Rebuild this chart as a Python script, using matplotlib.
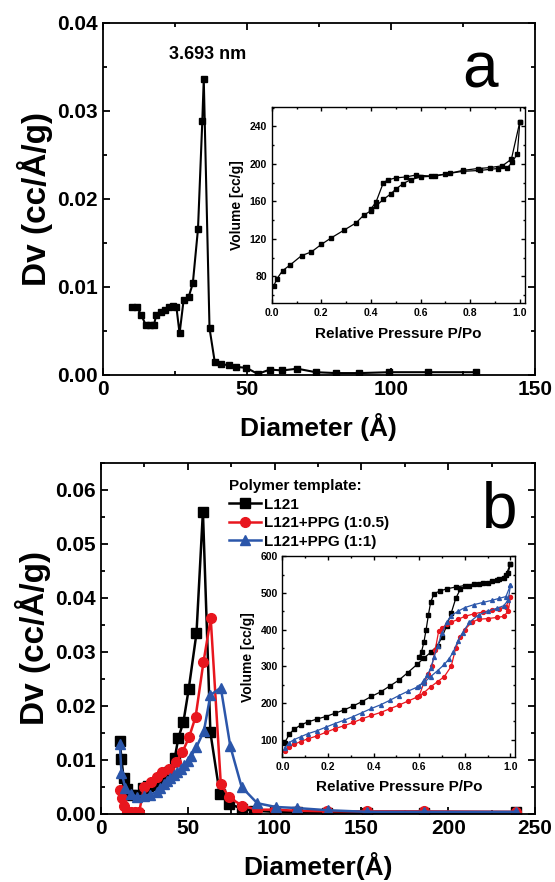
import matplotlib
matplotlib.use("Agg")
import matplotlib.pyplot as plt
from matplotlib.ticker import MultipleLocator

plt.rcParams['font.family'] = ['Liberation Sans', 'DejaVu Sans']
plt.rcParams['font.weight'] = 'bold'

# ---- panel a: pore size distribution ----
a_diam = [10.2, 11.8, 13.3, 14.8, 16.2, 17.7, 18.5, 20.0, 21.4, 22.9, 24.3, 25.5, 26.6,
          28.0, 29.8, 31.2, 33.0, 34.5, 35.0, 37.0, 38.8, 41.1, 43.9, 46.2, 49.8, 53.8,
          57.9, 62.3, 67.5, 73.9, 81.0, 89.0, 99.5, 112.8, 129.6]
a_dv = [0.0077, 0.0077, 0.0068, 0.0057, 0.0057, 0.0057, 0.0068, 0.0071, 0.0074, 0.0077,
        0.0078, 0.0077, 0.0047, 0.0085, 0.0089, 0.0104, 0.0166, 0.0289, 0.0336, 0.0053,
        0.0015, 0.0012, 0.0011, 0.0009, 0.0008, 0.0001, 0.0006, 0.0005, 0.0007, 0.0003,
        0.0002, 0.0002, 0.0003, 0.0003, 0.0003]

# inset a: isotherm
a_ads_p = [0.009, 0.02, 0.044, 0.074, 0.12, 0.16, 0.20, 0.24, 0.29, 0.34, 0.37, 0.40,
           0.42, 0.45, 0.48, 0.50, 0.53, 0.56, 0.60, 0.66, 0.72, 0.77, 0.84, 0.91, 0.95,
           0.97, 0.99, 1.0]
a_ads_v = [70, 77, 86, 92, 102, 106, 114, 121, 129, 137, 145, 150, 155, 162, 168, 173,
           179, 183, 186, 187, 190, 192, 193, 195, 196, 202, 211, 245]
a_des_p = [1.0, 0.966, 0.93, 0.88, 0.83, 0.77, 0.70, 0.64, 0.58, 0.54, 0.50, 0.47, 0.45,
           0.42, 0.40]
a_des_v = [245, 205, 198, 196, 195, 193, 189, 187, 188, 186, 185, 183, 180, 159, 152]

# ---- panel b: pore size distributions ----
labels_b = ['L121', 'L121+PPG (1:0.5)', 'L121+PPG (1:1)']
blk_x = [10.8, 11.8, 13, 15, 17.5, 20.5, 24, 27, 30, 33, 36, 39, 42.5, 44.5, 47.5, 50.5,
         55, 58.7, 63, 68.4, 74, 81.5, 88, 100, 113, 130, 153, 186, 239]
blk_y = [0.0135, 0.0101, 0.0066, 0.0046, 0.0036, 0.0035, 0.0048, 0.0052, 0.0053, 0.0058,
         0.0066, 0.0078, 0.0104, 0.0140, 0.0171, 0.0231, 0.0335, 0.0560, 0.0151, 0.0037,
         0.0018, 0.0010, 0.0006, 0.0004, 0.0003, 0.0002, 0.0002, 0.0002, 0.0003]
red_x = [10.8, 12, 13.2, 15, 17, 19.5, 22, 24.8, 28.6, 32.4, 35.3, 39.1, 43, 46.8, 50.7,
         54.5, 59, 63.2, 69, 73.7, 81.5, 90, 100, 113, 130, 153, 186, 239]
red_y = [0.0045, 0.0030, 0.0015, 0.0004, 0.0004, 0.0004, 0.0004, 0.0050, 0.0059, 0.0068,
         0.0077, 0.0083, 0.0096, 0.0114, 0.0142, 0.0180, 0.0281, 0.0362, 0.0056, 0.0031,
         0.0015, 0.0008, 0.0008, 0.0006, 0.0005, 0.0005, 0.0005, 0.0004]
blu_x = [10.8, 11.8, 14, 17, 20.5, 24.5, 28.5, 32, 34, 36, 38, 40, 42, 44, 46, 48, 50,
         52, 55, 59.3, 63, 69, 74.5, 81, 90, 100.7, 113, 130.5, 153, 186, 239]
blu_y = [0.0130, 0.0076, 0.0049, 0.0037, 0.0032, 0.0034, 0.0036, 0.0041, 0.0048, 0.0056,
         0.0062, 0.0066, 0.0072, 0.0077, 0.0083, 0.0090, 0.0099, 0.0108, 0.0124, 0.0154,
         0.0220, 0.0234, 0.0125, 0.0050, 0.0020, 0.0013, 0.0011, 0.0007, 0.0004, 0.0004,
         0.0004]

# inset b: isotherms (adsorption / desorption)
bk_ads_p = [0.01, 0.03, 0.05, 0.08, 0.11, 0.15, 0.19, 0.23, 0.27, 0.31, 0.35, 0.39, 0.43,
            0.47, 0.51, 0.55, 0.59, 0.62, 0.65, 0.68, 0.70, 0.72, 0.74, 0.76, 0.78, 0.82,
            0.86, 0.90, 0.94, 0.97, 0.99, 1.0]
bk_ads_v = [92, 115, 128, 140, 148, 156, 163, 172, 181, 192, 204, 218, 230, 246, 262, 283,
            305, 322, 338, 356, 380, 410, 445, 485, 510, 518, 523, 528, 534, 540, 555, 580]
bk_des_p = [1.0, 0.98, 0.95, 0.92, 0.88, 0.84, 0.80, 0.76, 0.72, 0.69, 0.665, 0.65, 0.64,
            0.63, 0.62, 0.61, 0.60]
bk_des_v = [580, 548, 538, 532, 528, 524, 520, 516, 511, 505, 498, 475, 440, 400, 365,
            340, 326]
rd_ads_p = [0.01, 0.03, 0.05, 0.08, 0.11, 0.15, 0.19, 0.23, 0.27, 0.31, 0.35, 0.39, 0.43,
            0.47, 0.51, 0.55, 0.59, 0.62, 0.65, 0.68, 0.71, 0.74, 0.76, 0.78, 0.80, 0.83,
            0.86, 0.90, 0.94, 0.97, 0.99, 1.0]
rd_ads_v = [68, 80, 87, 95, 102, 110, 120, 130, 138, 147, 157, 166, 174, 184, 194, 205,
            216, 228, 244, 258, 272, 300, 350, 380, 400, 420, 428, 430, 433, 436, 450, 489]
rd_des_p = [1.0, 0.98, 0.95, 0.92, 0.88, 0.84, 0.80, 0.77, 0.74, 0.72, 0.70, 0.685, 0.67,
            0.655, 0.64, 0.62, 0.60]
rd_des_v = [489, 462, 457, 453, 448, 443, 436, 428, 420, 414, 405, 396, 345, 300, 278,
            255, 220]
bl_ads_p = [0.01, 0.03, 0.05, 0.08, 0.11, 0.15, 0.19, 0.23, 0.27, 0.31, 0.35, 0.39, 0.43,
            0.47, 0.51, 0.55, 0.59, 0.62, 0.65, 0.68, 0.71, 0.73, 0.75, 0.77, 0.79, 0.82,
            0.86, 0.90, 0.94, 0.97, 0.99, 1.0]
bl_ads_v = [78, 92, 100, 108, 116, 124, 134, 144, 153, 163, 174, 185, 195, 207, 220, 232,
            243, 255, 272, 288, 305, 320, 340, 370, 392, 420, 440, 450, 458, 465, 480, 521]
bl_des_p = [1.0, 0.98, 0.95, 0.92, 0.88, 0.84, 0.80, 0.77, 0.74, 0.72, 0.70, 0.68, 0.665,
            0.65, 0.635, 0.62, 0.60]
bl_des_v = [521, 490, 485, 480, 474, 468, 460, 450, 438, 420, 390, 355, 325, 295, 275,
            262, 245]

RED = '#e8161e'
BLUE = '#2b56aa'


def style_axes(ax, major_x, minor_x, major_y, minor_y, size, lw=1.3):
    ax.xaxis.set_major_locator(MultipleLocator(major_x))
    ax.xaxis.set_minor_locator(MultipleLocator(minor_x))
    ax.yaxis.set_major_locator(MultipleLocator(major_y))
    ax.yaxis.set_minor_locator(MultipleLocator(minor_y))
    ax.tick_params(which='both', direction='in', top=True, right=True, width=lw)
    ax.tick_params(which='major', length=5, labelsize=size)
    ax.tick_params(which='minor', length=3)
    for sp in ax.spines.values():
        sp.set_linewidth(lw)
    for t in ax.get_xticklabels() + ax.get_yticklabels():
        t.set_fontweight('bold')


fig = plt.figure(figsize=(5.55, 8.82), dpi=100)

# ---------- panel a ----------
ax1 = fig.add_axes([0.1856, 0.575, 0.778, 0.399])
ax1.plot(a_diam, a_dv, 'k-', marker='s', markersize=5, linewidth=1.5)
ax1.set_xlim(0, 150)
ax1.set_ylim(0, 0.04)
style_axes(ax1, 50, 25, 0.01, 0.005, 15)
ax1.yaxis.set_major_formatter(plt.FormatStrFormatter('%.2f'))
ax1.set_xlabel('Diameter (Å)', fontsize=19, fontweight='bold', labelpad=10)
ax1.set_ylabel('Dv (cc/Å/g)', fontsize=24, fontweight='bold', labelpad=3)
ax1.text(0.243, 0.909, '3.693 nm', transform=ax1.transAxes, ha='center', va='center',
         fontsize=13, fontweight='bold')
ax1.text(0.873, 0.866, 'a', transform=ax1.transAxes, ha='center', va='center',
         fontsize=46, fontweight='normal')

ins1 = fig.add_axes([0.4896, 0.656, 0.456, 0.223])
ins1.plot(a_ads_p, a_ads_v, 'k-', marker='s', markersize=2.5, linewidth=0.9)
ins1.plot(a_des_p, a_des_v, 'k-', marker='s', markersize=2.5, linewidth=0.9)
ins1.set_xlim(0, 1.02)
ins1.set_ylim(51, 261)
style_axes(ins1, 0.2, 0.1, 40, 20, 7.5, lw=1.0)
ins1.tick_params(which='major', length=3)
ins1.tick_params(which='minor', length=1.5)
ins1.xaxis.set_major_formatter(plt.FormatStrFormatter('%.1f'))
ins1.set_xlabel('Relative Pressure P/Po', fontsize=11, fontweight='bold', labelpad=6)
ins1.set_ylabel('Volume [cc/g]', fontsize=10, fontweight='bold', labelpad=4)

# ---------- panel b ----------
ax2 = fig.add_axes([0.182, 0.0771, 0.782, 0.398])
ax2.plot(blk_x, blk_y, '-', color='black', marker='s', markersize=6.5, linewidth=1.8,
         label=labels_b[0])
ax2.plot(red_x, red_y, '-', color=RED, marker='o', markersize=7, linewidth=1.8,
         label=labels_b[1])
ax2.plot(blu_x, blu_y, '-', color=BLUE, marker='^', markersize=7.5, linewidth=1.8,
         label=labels_b[2])
ax2.set_xlim(0, 250)
ax2.set_ylim(0, 0.065)
style_axes(ax2, 50, 25, 0.01, 0.005, 15)
ax2.yaxis.set_major_formatter(plt.FormatStrFormatter('%.2f'))
ax2.set_xlabel('Diameter(Å)', fontsize=19, fontweight='bold', labelpad=10)
ax2.set_ylabel('Dv (cc/Å/g)', fontsize=24, fontweight='bold', labelpad=3)
ax2.text(0.919, 0.866, 'b', transform=ax2.transAxes, ha='center', va='center',
         fontsize=46, fontweight='normal')
leg = ax2.legend(loc='upper left', bbox_to_anchor=(0.27, 0.985), frameon=False,
                 title='Polymer template:', alignment='left',
                 prop={'size': 11, 'weight': 'bold'},
                 title_fontproperties={'size': 11, 'weight': 'bold'},
                 handlelength=2.1, handletextpad=0.2, labelspacing=0.3,
                 borderpad=0.2)

ins2 = fig.add_axes([0.509, 0.1414, 0.419, 0.228])
for p, v, c, m in [(bk_ads_p, bk_ads_v, 'black', 's'), (bk_des_p, bk_des_v, 'black', 's'),
                   (rd_ads_p, rd_ads_v, RED, 'o'), (rd_des_p, rd_des_v, RED, 'o'),
                   (bl_ads_p, bl_ads_v, BLUE, '^'), (bl_des_p, bl_des_v, BLUE, '^')]:
    ins2.plot(p, v, '-', color=c, marker=m, markersize=2.8, linewidth=0.9)
ins2.set_xlim(0, 1.02)
ins2.set_ylim(52, 600)
style_axes(ins2, 0.2, 0.1, 100, 50, 7.5, lw=1.0)
ins2.tick_params(which='major', length=3)
ins2.tick_params(which='minor', length=1.5)
ins2.xaxis.set_major_formatter(plt.FormatStrFormatter('%.1f'))
ins2.set_xlabel('Relative Pressure P/Po', fontsize=11, fontweight='bold', labelpad=6)
ins2.set_ylabel('Volume [cc/g]', fontsize=10, fontweight='bold', labelpad=4)

fig.savefig('out.png', dpi=100)
